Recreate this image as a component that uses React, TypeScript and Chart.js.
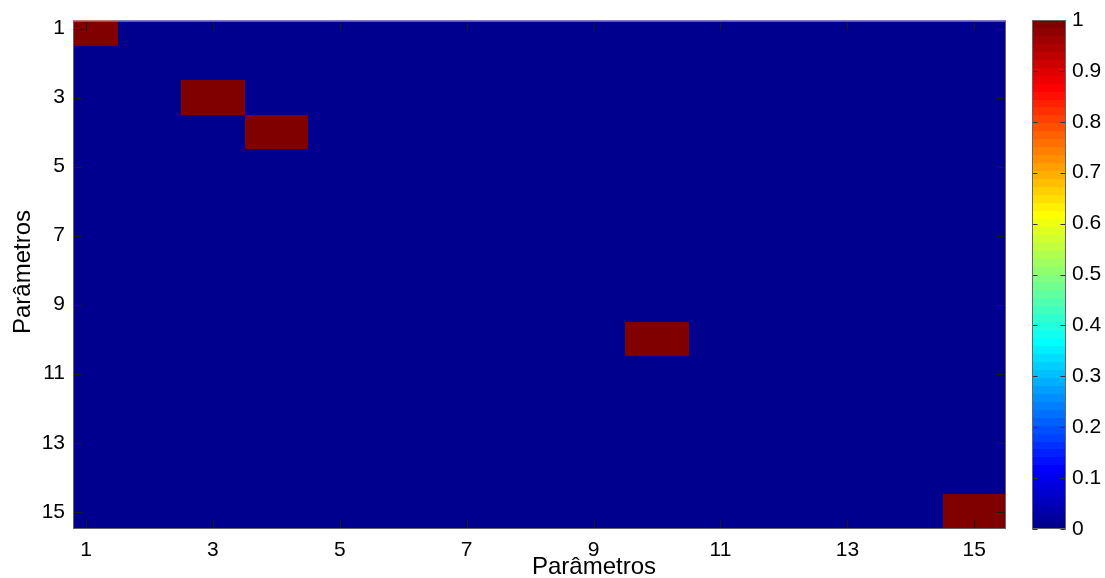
import React, { useEffect, useRef } from 'react';
import { Chart, registerables } from 'chart.js';

Chart.register(...registerables);

// ---- data ----
const xCategories = [1, 2, 3, 4, 5, 6, 7, 8, 9, 10, 11, 12, 13, 14, 15];
const yCategories = [1, 2, 3, 4, 5, 6, 7, 8, 9, 10, 11, 12, 13, 14, 15];
const cellMatrix = [
  [1, 0, 0, 0, 0, 0, 0, 0, 0, 0, 0, 0, 0, 0, 0],
  [0, 0, 0, 0, 0, 0, 0, 0, 0, 0, 0, 0, 0, 0, 0],
  [0, 0, 1, 0, 0, 0, 0, 0, 0, 0, 0, 0, 0, 0, 0],
  [0, 0, 0, 1, 0, 0, 0, 0, 0, 0, 0, 0, 0, 0, 0],
  [0, 0, 0, 0, 0, 0, 0, 0, 0, 0, 0, 0, 0, 0, 0],
  [0, 0, 0, 0, 0, 0, 0, 0, 0, 0, 0, 0, 0, 0, 0],
  [0, 0, 0, 0, 0, 0, 0, 0, 0, 0, 0, 0, 0, 0, 0],
  [0, 0, 0, 0, 0, 0, 0, 0, 0, 0, 0, 0, 0, 0, 0],
  [0, 0, 0, 0, 0, 0, 0, 0, 0, 0, 0, 0, 0, 0, 0],
  [0, 0, 0, 0, 0, 0, 0, 0, 0, 1, 0, 0, 0, 0, 0],
  [0, 0, 0, 0, 0, 0, 0, 0, 0, 0, 0, 0, 0, 0, 0],
  [0, 0, 0, 0, 0, 0, 0, 0, 0, 0, 0, 0, 0, 0, 0],
  [0, 0, 0, 0, 0, 0, 0, 0, 0, 0, 0, 0, 0, 0, 0],
  [0, 0, 0, 0, 0, 0, 0, 0, 0, 0, 0, 0, 0, 0, 0],
  [0, 0, 0, 0, 0, 0, 0, 0, 0, 0, 0, 0, 0, 0, 1],
];
const xTickValues = [1, 3, 5, 7, 9, 11, 13, 15];
const yTickValues = [1, 3, 5, 7, 9, 11, 13, 15];
const colorbarTicks = [0, 0.1, 0.2, 0.3, 0.4, 0.5, 0.6, 0.7, 0.8, 0.9, 1];
const xAxisTitle = 'Parâmetros';
const yAxisTitle = 'Parâmetros';

// ---- jet colormap (MATLAB jet(64)) ----
function buildJet(m: number): number[][] {
  const n = Math.ceil(m / 4);
  const u: number[] = [];
  for (let k = 1; k <= n; k++) u.push(k / n);
  for (let k = 1; k < n; k++) u.push(1);
  for (let k = n; k >= 1; k--) u.push(k / n);
  const gOff = Math.ceil(n / 2) - (m % 4 === 1 ? 1 : 0);
  const J = Array.from({ length: m }, () => [0, 0, 0]);
  u.forEach((val, j) => {
    const gi = gOff + j;
    const ri = gi + n;
    const bi = gi - n;
    if (ri >= 0 && ri < m) J[ri][0] = val;
    if (gi >= 0 && gi < m) J[gi][1] = val;
    if (bi >= 0 && bi < m) J[bi][2] = val;
  });
  return J;
}
const JET = buildJet(64);
function jetColor(v: number): string {
  const idx = Math.max(0, Math.min(63, Math.floor(v * 64)));
  const c = JET[idx];
  return `rgb(${Math.round(c[0] * 255)},${Math.round(c[1] * 255)},${Math.round(c[2] * 255)})`;
}

const FONT = "'Liberation Sans', Arial, sans-serif";
const TICK_FONT_SIZE = 21;
const TITLE_FONT_SIZE = 24;

const heatmapPlugin = {
  id: 'heatmapCells',
  beforeDatasetsDraw(chart: any) {
    const { ctx, chartArea, scales } = chart;
    const xs = scales.x;
    const ys = scales.y;
    ctx.save();
    ctx.beginPath();
    ctx.rect(chartArea.left, chartArea.top, chartArea.right - chartArea.left, chartArea.bottom - chartArea.top);
    ctx.clip();
    const pts = chart.data.datasets[0].data as any[];
    pts.forEach((p) => {
      const xa = Math.round(xs.getPixelForValue(p.x - 0.5));
      const xb = Math.round(xs.getPixelForValue(p.x + 0.5));
      const ya = Math.round(ys.getPixelForValue(p.y - 0.5));
      const yb = Math.round(ys.getPixelForValue(p.y + 0.5));
      ctx.fillStyle = jetColor(p.v);
      ctx.fillRect(Math.min(xa, xb), Math.min(ya, yb), Math.abs(xb - xa), Math.abs(yb - ya));
    });
    ctx.restore();
  },
  afterDraw(chart: any) {
    const { ctx, chartArea, scales } = chart;
    const xs = scales.x;
    const ys = scales.y;
    const L = Math.round(chartArea.left) + 0.5;
    const R = Math.round(chartArea.right) - 0.5;
    const T = Math.round(chartArea.top) + 0.5;
    const B = Math.round(chartArea.bottom) - 0.5;
    const tl = 9;
    ctx.save();
    ctx.lineWidth = 1;
    ctx.strokeStyle = '#1a1a1a';
    ctx.beginPath();
    xTickValues.forEach((v) => {
      const px = Math.round(xs.getPixelForValue(v)) + 0.5;
      ctx.moveTo(px, B);
      ctx.lineTo(px, B - tl);
      ctx.moveTo(px, T);
      ctx.lineTo(px, T + tl);
    });
    yTickValues.forEach((v) => {
      const py = Math.round(ys.getPixelForValue(v)) + 0.5;
      ctx.moveTo(L, py);
      ctx.lineTo(L + tl, py);
      ctx.moveTo(R, py);
      ctx.lineTo(R - tl, py);
    });
    ctx.stroke();
    ctx.strokeStyle = '#666666';
    ctx.strokeRect(L, T, R - L, B - T);

    // axis titles
    ctx.fillStyle = '#000';
    ctx.font = `${TITLE_FONT_SIZE}px ${FONT}`;
    ctx.textAlign = 'center';
    ctx.textBaseline = 'alphabetic';
    ctx.fillText(xAxisTitle, 594, 574);
    ctx.translate(30, 272);
    ctx.rotate(-Math.PI / 2);
    ctx.fillText(yAxisTitle, 0, 0);
    ctx.restore();
  },
};

const colorbarPlugin = {
  id: 'colorbarBands',
  beforeDatasetsDraw(chart: any) {
    const { ctx, chartArea, scales } = chart;
    const ys = scales.y;
    const left = Math.round(chartArea.left);
    const w = Math.round(chartArea.right) - left;
    ctx.save();
    for (let i = 0; i < 64; i++) {
      const y0 = Math.round(ys.getPixelForValue(i / 64));
      const y1 = Math.round(ys.getPixelForValue((i + 1) / 64));
      ctx.fillStyle = jetColor((i + 0.5) / 64);
      ctx.fillRect(left, y1, w, y0 - y1);
    }
    ctx.restore();
  },
  afterDraw(chart: any) {
    const { ctx, chartArea, scales } = chart;
    const ys = scales.y;
    const L = Math.round(chartArea.left) + 0.5;
    const R = Math.round(chartArea.right) - 0.5;
    const T = Math.round(chartArea.top) + 0.5;
    const B = Math.round(chartArea.bottom) - 0.5;
    const tl = 5;
    ctx.save();
    ctx.lineWidth = 1;
    ctx.strokeStyle = '#333333';
    ctx.beginPath();
    colorbarTicks.forEach((v) => {
      const py = Math.round(ys.getPixelForValue(v)) + 0.5;
      ctx.moveTo(L, py);
      ctx.lineTo(L + tl, py);
      ctx.moveTo(R, py);
      ctx.lineTo(R - tl, py);
    });
    ctx.stroke();
    ctx.strokeStyle = '#666666';
    ctx.strokeRect(L, T, R - L, B - T);
    ctx.restore();
  },
};

export default function App() {
  const mainRef = useRef<HTMLCanvasElement | null>(null);
  const cbRef = useRef<HTMLCanvasElement | null>(null);

  useEffect(() => {
    if (!mainRef.current || !cbRef.current) return;
    const cells = yCategories.flatMap((y, r) =>
      xCategories.map((x, c) => ({ x, y, v: cellMatrix[r][c] }))
    );

    const main = new Chart(mainRef.current, {
      type: 'scatter',
      data: {
        datasets: [
          {
            data: cells as any,
            pointRadius: 0,
            pointHoverRadius: 0,
          },
        ],
      },
      options: {
        animation: false,
        responsive: false,
        events: [],
        layout: { padding: { left: 0, top: 20, right: 99, bottom: 0 } },
        plugins: { legend: { display: false }, tooltip: { enabled: false } },
        scales: {
          x: {
            type: 'linear',
            position: 'bottom',
            min: 0.795,
            max: 15.5,
            grid: { display: false, drawTicks: false },
            border: { display: false },
            afterBuildTicks: (scale: any) => {
              scale.ticks = xTickValues.map((v) => ({ value: v }));
            },
            afterFit: (scale: any) => {
              scale.height = 49;
            },
            ticks: {
              color: '#000',
              font: { family: FONT, size: TICK_FONT_SIZE },
              padding: 9,
              maxRotation: 0,
              autoSkip: false,
              callback: (v: any) => String(v),
            },
          },
          y: {
            type: 'linear',
            reverse: true,
            min: 0.77,
            max: 15.5,
            grid: { display: false, drawTicks: false },
            border: { display: false },
            afterBuildTicks: (scale: any) => {
              scale.ticks = yTickValues.map((v) => ({ value: v }));
            },
            afterFit: (scale: any) => {
              scale.width = 73;
            },
            ticks: {
              color: '#000',
              font: { family: FONT, size: TICK_FONT_SIZE },
              padding: 8,
              autoSkip: false,
              callback: (v: any) => String(v),
            },
          },
        },
      },
      plugins: [heatmapPlugin],
    });

    const cb = new Chart(cbRef.current, {
      type: 'scatter',
      data: { datasets: [{ data: [], pointRadius: 0 }] },
      options: {
        animation: false,
        responsive: false,
        events: [],
        layout: { padding: { left: 32, top: 20, right: 0, bottom: 49 } },
        plugins: { legend: { display: false }, tooltip: { enabled: false } },
        scales: {
          x: { type: 'linear', display: false, min: 0, max: 1 },
          y: {
            type: 'linear',
            position: 'right',
            min: 0,
            max: 1,
            grid: { display: false, drawTicks: false },
            border: { display: false },
            afterBuildTicks: (scale: any) => {
              scale.ticks = colorbarTicks.map((v) => ({ value: v }));
            },
            afterFit: (scale: any) => {
              scale.width = 39;
            },
            ticks: {
              color: '#000',
              font: { family: FONT, size: TICK_FONT_SIZE },
              padding: 6,
              autoSkip: false,
              callback: (v: any) => String(Math.round(Number(v) * 10) / 10),
            },
          },
        },
      },
      plugins: [colorbarPlugin],
    });

    return () => {
      main.destroy();
      cb.destroy();
    };
  }, []);

  return (
    <div style={{ position: 'absolute', left: 0, top: 0, width: 1105, height: 578, background: '#fff' }}>
      <canvas
        ref={mainRef}
        width={1105}
        height={578}
        style={{ position: 'absolute', left: 0, top: 0, width: 1105, height: 578 }}
      />
      <canvas
        ref={cbRef}
        width={105}
        height={578}
        style={{ position: 'absolute', left: 1000, top: 0, width: 105, height: 578 }}
      />
    </div>
  );
}
